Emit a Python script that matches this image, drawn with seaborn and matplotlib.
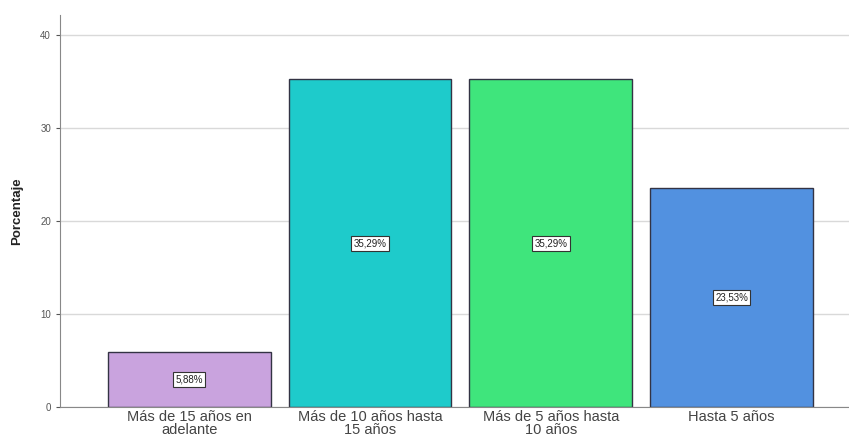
import matplotlib
matplotlib.use("Agg")
import matplotlib.pyplot as plt
import seaborn as sns
import pandas as pd

categories = ["Más de 15 años en\nadelante", "Más de 10 años hasta\n15 años",
              "Más de 5 años hasta\n10 años", "Hasta 5 años"]
percentages = [5.88, 35.29, 35.29, 23.53]
value_labels = ["5,88%", "35,29%", "35,29%", "23,53%"]
bar_colors = ["#c9a3de", "#1ecbcb", "#3fe57c", "#5291e0"]
y_ticks = [0, 10, 20, 30, 40]

df = pd.DataFrame({"categoria": categories, "porcentaje": percentages})

sns.set_style("white")
plt.rcParams["font.family"] = ["Liberation Sans", "DejaVu Sans"]
fig = plt.figure(figsize=(8.49, 4.46), dpi=100)
ax = fig.add_axes([0.0707, 0.0874, 0.9293, 0.879])

sns.barplot(data=df, x="categoria", y="porcentaje", hue="categoria",
            palette=bar_colors, legend=False, width=0.9, ax=ax,
            edgecolor="#333344", linewidth=1.0, saturation=1)

for patch, lab, val in zip(ax.patches, value_labels, percentages):
    cx = patch.get_x() + patch.get_width() / 2
    ax.text(cx, val / 2, lab, ha="center", va="center", fontsize=7,
            color="#222222",
            bbox=dict(boxstyle="square,pad=0.25", fc="white", ec="#333333", lw=0.8))

ax.set_xlim(-0.715, 3.65)
ax.set_ylim(0, 42.2)
ax.set_yticks(y_ticks)
ax.yaxis.grid(True, color="#d9d9d9", linewidth=1.0)
ax.set_axisbelow(True)
ax.tick_params(axis="y", labelsize=7, colors="#555555", length=3, width=0.8, left=True)
ax.tick_params(axis="x", labelsize=10.5, colors="#444444", length=0, pad=2)
for lbl in ax.get_xticklabels():
    lbl.set_linespacing(0.95)

ax.set_xlabel("")
ax.set_ylabel("Porcentaje", fontsize=9.5, fontweight="bold", color="#222222", labelpad=12)

for side in ["top", "right"]:
    ax.spines[side].set_visible(False)
ax.spines["left"].set_color("#888888")
ax.spines["bottom"].set_color("#888888")

fig.savefig("out.png", dpi=100)
